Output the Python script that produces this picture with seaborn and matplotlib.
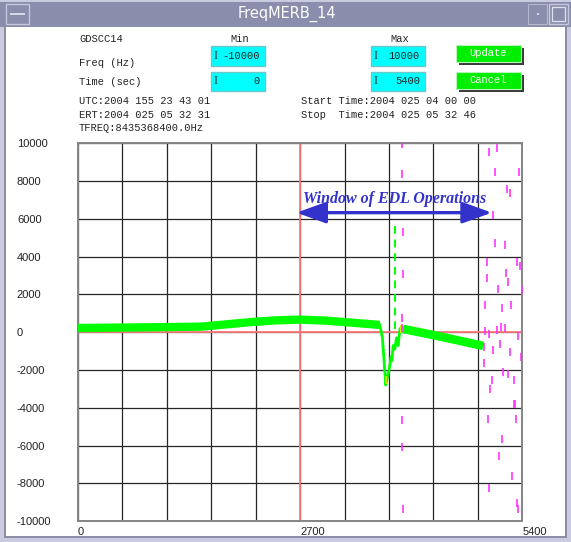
import numpy as np
import matplotlib
matplotlib.use("Agg")
import matplotlib.pyplot as plt
from matplotlib.patches import Rectangle
import seaborn as sns

# ---------------- data ----------------
band1_time = [0, 540, 1080, 1500, 1800, 2100, 2400, 2700, 3000, 3300, 3668]
band1_freq = [230, 250, 275, 300, 420, 540, 630, 670, 620, 520, 390]

dip_time = [3668, 3700, 3720, 3740, 3760, 3785, 3805, 3815, 3830, 3850, 3870, 3890, 3915, 3945]
dip_freq = [390, -300, -1500, -2790, -2400, -1900, -1300, -1500, -700, -900, -300, -700, 200, 250]

spike_time = [3855, 3855]
spike_freq = [5600, 100]

band2_time = [3950, 4300, 4600, 4925]
band2_freq = [180, -130, -410, -720]

noise_time = [3942, 3942, 3954, 3954, 3942, 3942, 3942, 3942, 3954,
              4996, 5089, 5072, 5364, 5214, 5251, 5044, 5065, 5190, 4971,
              5340, 5372, 5202, 4975, 5223, 5105, 5397, 4943, 5150, 5267,
              4951, 4999, 5093, 5145, 5186, 5352, 4935, 5048, 5129, 5247,
              5388, 4931, 5169, 5230, 5028, 5296, 5011, 5296, 5315, 4984,
              5324, 5157, 5117, 5279, 4996, 5332, 5345]
noise_freq = [9937, 8376, 5307, 3085, 783, 250, -4640, -6069, -9349,
              9524, 9767, 8466, 8466, 7598, 7370, 6206, 4725, 4635, 3720,
              3720, 3508, 3164, 2873, 2661, 2291, 2238, 1444, 1312, 1444,
              69, -90, 122, 280, 228, -196, -778, -937, -619, -1042,
              -1333, -1624, -2100, -2206, -2524, -2524, -3000, -3794, -3794, -4587,
              -4587, -5645, -6545, -7603, -8212, -9032, -9349]

yellow_time = [3742, 3925]
yellow_freq = [-2550, 150]

ref_time = 2700
ref_freq = 0
edl_start, edl_end, edl_level = 2655, 5030, 6330
edl_label = "Window of EDL Operations"

x_ticks = [0, 540, 1080, 1620, 2160, 2700, 3240, 3780, 4320, 4860, 5400]
x_tick_labels = ["0", "", "", "", "", "2700", "", "", "", "", "5400"]
y_ticks = [-10000, -8000, -6000, -4000, -2000, 0, 2000, 4000, 6000, 8000, 10000]
y_tick_labels = ["-10000", "-8000", "-6000", "-4000", "-2000", "0",
                 "2000", "4000", "6000", "8000", "10000"]

# ---------------- figure / window chrome ----------------
W, H = 571, 542
fig = plt.figure(figsize=(W / 100, H / 100), dpi=100)
fig.patch.set_facecolor("white")


def R(x0, y0, x1, y1, **kw):
    fig.add_artist(Rectangle((x0 / W, 1 - y1 / H), (x1 - x0) / W, (y1 - y0) / H,
                             transform=fig.transFigure, **kw))


def T(x, y, s, **kw):
    fig.text(x / W, 1 - y / H, s, **kw)


mono = "Liberation Mono"
# window borders
R(0, 0, 5, H, facecolor="#c9cbe0", edgecolor="none")
R(4, 27, 6, H - 5, facecolor="#8c8ea8", edgecolor="none")
R(W - 5, 0, W, H, facecolor="#c9cbe0", edgecolor="none")
R(W - 6, 27, W - 4, H - 5, facecolor="#8c8ea8", edgecolor="none")
R(0, H - 5, W, H, facecolor="#c9cbe0", edgecolor="none")
R(4, H - 6, W - 4, H - 4, facecolor="#8c8ea8", edgecolor="none")
# title bar
R(0, 0, W, 27, facecolor="#8a8dab", edgecolor="none")
R(0, 0, W, 2, facecolor="#c9cbe0", edgecolor="none")
R(6, 4, 29, 24, facecolor="#8a8dab", edgecolor="#c5c7dc", linewidth=1)
R(10, 13, 25, 15, facecolor="#d8d9e8", edgecolor="none")
R(528, 4, 547, 24, facecolor="#8a8dab", edgecolor="#b5b7cc", linewidth=0.8)
R(537, 13, 539, 15, facecolor="#d8d9e8", edgecolor="none")
R(549, 4, 568, 24, facecolor="#8a8dab", edgecolor="#c5c7dc", linewidth=1)
R(552, 7, 565, 21, facecolor="none", edgecolor="#e0e1ee", linewidth=0.9)
T(287, 14, "FreqMERB_14", color="white", fontsize=10.5, family="DejaVu Sans",
  ha="center", va="center")

# control panel
tk = dict(fontsize=7.5, family=mono, color="#222222", va="center")
T(79, 39, "GDSCC14", **tk)
T(240, 39, "Min", ha="center", **tk)
T(400, 39, "Max", ha="center", **tk)
T(79, 63, "Freq (Hz)", **tk)
T(79, 82, "Time (sec)", **tk)
for (x0, y0, x1, y1, val) in [(211, 46, 265, 66, "-10000"), (211, 72, 265, 91, "0"),
                              (371, 46, 425, 66, "10000"), (371, 72, 425, 91, "5400")]:
    R(x0, y0, x1, y1, facecolor="#00ffff", edgecolor="#6fc8c8", linewidth=1)
    T(x1 - 5, (y0 + y1) / 2, val, ha="right", **tk)
    T(x0 + 5, (y0 + y1) / 2, "I", fontsize=9, family="Liberation Serif",
      color="#333333", va="center", ha="center")
for (y0, y1, lab) in [(45, 65, "Update"), (72, 92, "Cancel")]:
    R(459, y0 + 3, 524, y1, facecolor="#3a3a3a", edgecolor="none")
    R(456, y0, 521, y1 - 3, facecolor="#00ee00", edgecolor="#b8f5b8", linewidth=0.8)
    T(488.5, (y0 + y1 - 3) / 2, lab, fontsize=7.5, family=mono, color="white",
      ha="center", va="center")
T(79, 101, "UTC:2004 155 23 43 01", **tk)
T(79, 115, "ERT:2004 025 05 32 31", **tk)
T(79, 128, "TFREQ:8435368400.0Hz", **tk)
T(301, 101, "Start Time:2004 025 04 00 00", **tk)
T(301, 115, "Stop  Time:2004 025 05 32 46", **tk)

# ---------------- plot ----------------
ax = fig.add_axes([78 / W, 1 - 521.3 / H, 444.3 / W, 378 / H])
ax.set_facecolor("white")
ax.set_xlim(0, 5400)
ax.set_ylim(-10000, 10000)
ax.set_xticks(x_ticks)
ax.set_xticklabels(x_tick_labels)
ax.set_yticks(y_ticks)
ax.set_yticklabels(y_tick_labels)
ax.grid(True, color="#262626", linewidth=0.9)
ax.set_axisbelow(True)
for sp in ax.spines.values():
    sp.set_color("#858585")
    sp.set_linewidth(1.4)
ax.tick_params(axis="y", length=0, pad=44, labelsize=8, labelcolor="#222222")
ax.tick_params(axis="x", length=0, pad=4, labelsize=8, labelcolor="#222222")
for lab in ax.get_yticklabels():
    lab.set_horizontalalignment("left")
    lab.set_family("Liberation Sans")
for lab in ax.get_xticklabels():
    lab.set_horizontalalignment("left")
    lab.set_family("Liberation Sans")

ax.axvline(ref_time, color="#ff7a7a", linewidth=1.3, zorder=1.5)
ax.axhline(ref_freq, color="#ff7a7a", linewidth=1.3, zorder=1.5)

green = "#00ff00"
sns.lineplot(x=band1_time, y=band1_freq, ax=ax, color=green, linewidth=6.0,
             estimator=None, sort=False, solid_capstyle="butt", zorder=3)
sns.lineplot(x=dip_time, y=dip_freq, ax=ax, color=green, linewidth=2.0,
             estimator=None, sort=False, zorder=3)
sns.lineplot(x=spike_time, y=spike_freq, ax=ax, color=green, linewidth=1.4,
             estimator=None, sort=False, linestyle=(0, (4, 3)), zorder=3)
sns.lineplot(x=band2_time, y=band2_freq, ax=ax, color=green, linewidth=6.2,
             estimator=None, sort=False, solid_capstyle="butt", zorder=3)
sns.scatterplot(x=yellow_time, y=yellow_freq, ax=ax, marker="|", color="#e8e800",
                s=30, linewidth=1.3, zorder=4)
sns.scatterplot(x=noise_time, y=noise_freq, ax=ax, marker="|", color="#ff33ff",
                s=34, linewidth=1.2, zorder=4)

ax.annotate("", xy=(edl_end, edl_level), xytext=(edl_start, edl_level),
            arrowprops=dict(arrowstyle="<|-|>,head_length=1.8,head_width=0.65",
                            color="#3333cc", lw=2.4, shrinkA=0, shrinkB=0,
                            mutation_scale=10), zorder=5)
ax.text((edl_start + edl_end) / 2, 7040, edl_label, ha="center", va="center",
        color="#3333cc", fontsize=11.5, fontstyle="italic", fontweight="bold",
        family="Liberation Serif", zorder=5)
ax.set_xlabel("")
ax.set_ylabel("")

fig.savefig("out.png", dpi=100, facecolor=fig.get_facecolor())
